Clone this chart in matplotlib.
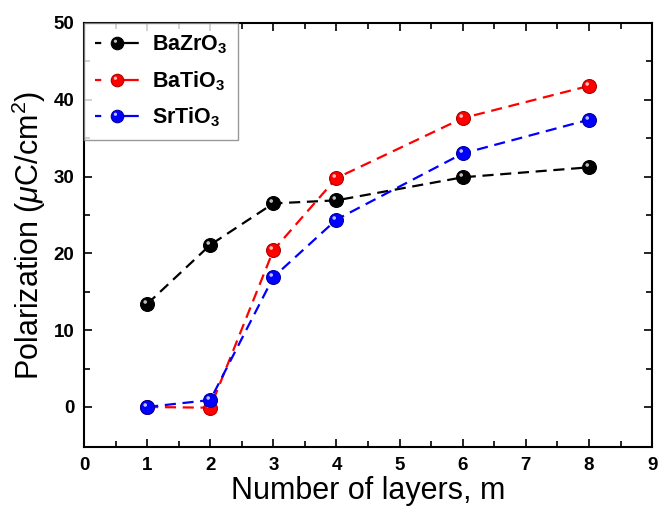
import numpy as np
import matplotlib
matplotlib.use("Agg")
import matplotlib.pyplot as plt
from matplotlib.path import Path
from matplotlib.lines import Line2D
from matplotlib.legend_handler import HandlerTuple

plt.rcParams['font.family'] = ['Liberation Sans', 'DejaVu Sans']
plt.rcParams['mathtext.fontset'] = 'custom'
plt.rcParams['mathtext.rm'] = 'Liberation Sans'
plt.rcParams['mathtext.it'] = 'Liberation Sans:italic'
plt.rcParams['mathtext.bf'] = 'Liberation Sans:bold'

layers = [1, 2, 3, 4, 6, 8]
bazro3 = [13.4, 21.1, 26.5, 26.9, 29.9, 31.2]
batio3 = [0.0, -0.1, 20.4, 29.8, 37.6, 41.8]
srtio3 = [0.0, 0.9, 16.9, 24.4, 33.0, 37.4]
series_names = [r'$\mathbf{BaZrO_3}$', r'$\mathbf{BaTiO_3}$', r'$\mathbf{SrTiO_3}$']
colors = ['#000000', '#ff0000', '#0000ff']
edge_colors = ['#000000', '#b00000', '#0000a0']

# highlight marker: small circle offset up-left inside the unit marker frame
circ = Path.unit_circle()
hv = circ.vertices * 0.26 + np.array([-0.33, 0.36])
hl = Path(hv, circ.codes)
frame = Path([(1, 1), (-1, -1)], [Path.MOVETO, Path.MOVETO])
hl_path = Path.make_compound_path(frame, hl)

fig = plt.figure(figsize=(6.59, 5.09), dpi=100)
ax = fig.add_axes([0.1275, 0.122, 0.862, 0.833])

handles = []
for vals, c, ec in zip([bazro3, batio3, srtio3], colors, edge_colors):
    ax.plot(layers, vals, linestyle=(0, (5, 3)), color=c, lw=1.6,
            marker='o', markersize=10, markerfacecolor=c,
            markeredgecolor=ec, markeredgewidth=0.8)
    ax.plot(layers, vals, linestyle='none', marker=hl_path, markersize=10,
            markerfacecolor='white', markeredgewidth=0, alpha=0.75)
    p1 = Line2D([], [], color=c, lw=1.6, linestyle=(0, (2.8, 9.4, 7.5, 6)),
                marker='o', markersize=9, markerfacecolor=c,
                markeredgecolor=ec, markeredgewidth=0.8)
    p2 = Line2D([], [], linestyle='none', marker=hl_path, markersize=9,
                markerfacecolor='white', markeredgewidth=0, alpha=0.75)
    handles.append((p1, p2))

ax.set_xlim(0, 9)
ax.set_ylim(-5.2, 50)
ax.set_xticks(range(0, 10))
ax.set_xticks(np.arange(0.5, 9, 1), minor=True)
ax.set_yticks(range(0, 51, 10))
ax.set_yticks(range(5, 50, 10), minor=True)
ax.tick_params(which='both', direction='in', top=True, right=True, width=1.2)
ax.tick_params(which='major', length=6, labelsize=13.5, pad=7)
ax.tick_params(which='minor', length=4)
for lab in ax.get_xticklabels() + ax.get_yticklabels():
    lab.set_fontweight('bold')
for s in ax.spines.values():
    s.set_linewidth(1.5)

ax.set_xlabel('Number of layers, m', fontsize=22, labelpad=2)
ax.set_ylabel(r'Polarization ($\mu$C/cm$^2$)', fontsize=22, labelpad=4)

leg = ax.legend(handles, series_names, handler_map={tuple: HandlerTuple(ndivide=1)},
                loc='upper left', borderaxespad=0, fontsize=15.5, frameon=True,
                fancybox=False, edgecolor='#808080', handlelength=2.1,
                handletextpad=0.55, labelspacing=0.6, borderpad=0.5)
leg.get_frame().set_linewidth(1.0)

fig.savefig('out.png', dpi=100)
